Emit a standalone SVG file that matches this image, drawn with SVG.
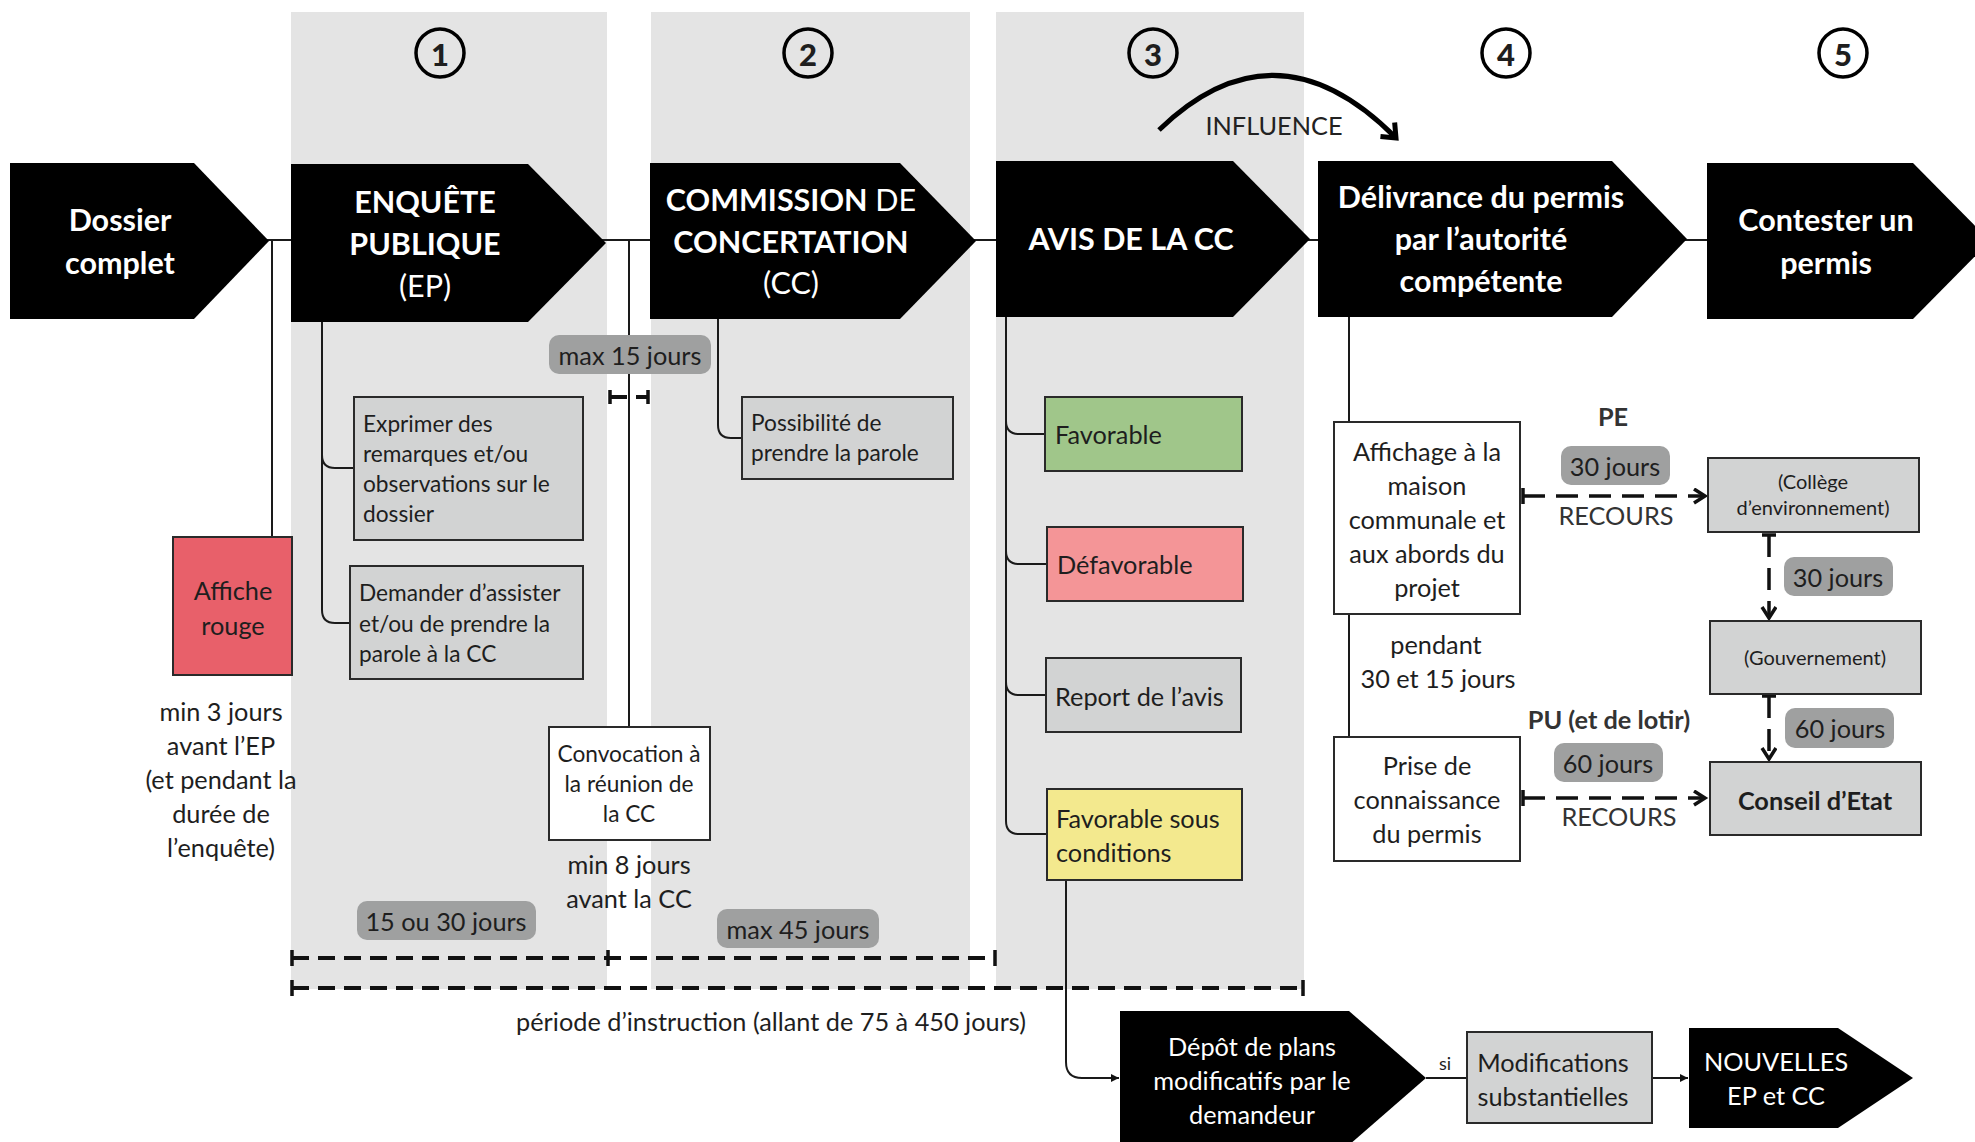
<svg xmlns="http://www.w3.org/2000/svg" width="1975" height="1142" viewBox="0 0 1975 1142">
<style>
text{font-family:Lato,"Liberation Sans",sans-serif;fill:#1e1e1e;dominant-baseline:central}
.hd{fill:#fff;font-size:30.5px;font-weight:bold;text-anchor:middle}
.hdr{font-weight:normal}
.col{fill:#e4e4e4}
.arrowshape{fill:#000}
.box{stroke:#2a2a2a;stroke-width:2}
.gray{fill:#d2d3d3}
.wht{fill:#fff}
.pill{fill:#9fa0a0}
.t24{font-size:25.3px}
.t22{font-size:22.7px}
.t20{font-size:20px}
.c{text-anchor:middle}
.ln{fill:none;stroke:#1a1a1a;stroke-width:2}
.dash{fill:none;stroke:#111;stroke-width:4;stroke-dasharray:17 9}
.dash2{fill:none;stroke:#111;stroke-width:3.5;stroke-dasharray:22 11}
.tick{stroke:#111;stroke-width:3.5}
.num{font-size:31px;font-weight:900;text-anchor:middle}
.circ{fill:none;stroke:#000;stroke-width:3.5}
.lt{fill:#333}
</style>
<defs>
<marker id="chev" markerUnits="userSpaceOnUse" markerWidth="20" markerHeight="20" refX="14" refY="8" orient="auto">
<path d="M3,1 L14,8 L3,15" fill="none" stroke="#111" stroke-width="3.5"/>
</marker>
<marker id="bigchev" markerUnits="userSpaceOnUse" markerWidth="30" markerHeight="30" refX="14" refY="12" orient="auto">
<path d="M2,2 L14,12 L2,22" fill="none" stroke="#000" stroke-width="5"/>
</marker>
<marker id="tri" markerUnits="userSpaceOnUse" markerWidth="10" markerHeight="10" refX="8" refY="4" orient="auto">
<path d="M0,0 L8,4 L0,8 Z" fill="#111"/>
</marker>
</defs>

<g id="columns">
<rect class="col" x="291" y="12" width="316" height="977"/>
<rect class="col" x="651" y="12" width="319" height="977"/>
<rect class="col" x="996" y="12" width="308" height="977"/>
</g>

<g id="connectors">
<path class="ln" d="M260,240 H1712"/>
<path class="ln" d="M272,240 V537"/>
<path class="ln" d="M629,240 V727"/>
<path class="ln" d="M322,322 V610 Q322,623 335,623 H350"/>
<path class="ln" d="M322,455 Q322,468 335,468 H354"/>
<path class="ln" d="M718,319 V425 Q718,438 731,438 H742"/>
<path class="ln" d="M1006,317 V821 Q1006,834 1019,834 H1047"/>
<path class="ln" d="M1006,421 Q1006,434 1019,434 H1045"/>
<path class="ln" d="M1006,551 Q1006,564 1019,564 H1047"/>
<path class="ln" d="M1006,682 Q1006,695 1019,695 H1046"/>
<path class="ln" d="M1349,317 V422"/>
<path class="ln" d="M1349,614 V737"/>
<path class="ln" d="M1066,880 V1062 Q1066,1078 1082,1078 H1119" marker-end="url(#tri)"/>
<path class="ln" d="M1426,1078 H1467"/>
<path class="ln" d="M1652,1078 H1688" marker-end="url(#tri)"/>
<path d="M1159,130 Q1276,17 1396,138" fill="none" stroke="#000" stroke-width="5" marker-end="url(#bigchev)"/>
<path class="dash" d="M610,397 H648" stroke-dasharray="8 6"/>
<path class="tick" d="M610,390 V404 M648,390 V404"/>
<path class="dash" d="M292,958 H995"/>
<path class="tick" d="M292,950 V966 M608,950 V966 M995,950 V966" stroke-width="4"/>
<path class="dash" d="M292,988 H1303"/>
<path class="tick" d="M292,980 V996 M1303,980 V996" stroke-width="4"/>
<path class="dash2" d="M1523,496 H1705" marker-end="url(#chev)"/>
<path class="tick" d="M1523,488 V504"/>
<path class="dash2" d="M1523,798 H1705" marker-end="url(#chev)"/>
<path class="tick" d="M1523,790 V806"/>
<path class="dash2" d="M1769,535 V618" stroke-dasharray="16 9" marker-end="url(#chev)"/>
<path class="tick" d="M1762,535 H1776"/>
<path class="dash2" d="M1769,696 V759" stroke-dasharray="14 8" marker-end="url(#chev)"/>
<path class="tick" d="M1762,696 H1776"/>
</g>

<g id="steps">
<g id="n1"><circle class="circ" cx="440" cy="53" r="24"/><text class="num" x="440" y="54">1</text></g>
<g id="n2"><circle class="circ" cx="808" cy="53" r="24"/><text class="num" x="808" y="54">2</text></g>
<g id="n3"><circle class="circ" cx="1153" cy="53" r="24"/><text class="num" x="1153" y="54">3</text></g>
<g id="n4"><circle class="circ" cx="1506" cy="53" r="24"/><text class="num" x="1506" y="54">4</text></g>
<g id="n5"><circle class="circ" cx="1843" cy="53" r="24"/><text class="num" x="1843" y="54">5</text></g>
</g>

<g id="dossier">
<path class="arrowshape" d="M10,163 H194 L269,241 L194,319 H10 Z"/>
<text class="hd" x="120" y="219">Dossier</text>
<text class="hd" x="120" y="262">complet</text>
</g>
<g id="ep">
<path class="arrowshape" d="M291,164 H528 L606,243 L528,322 H291 Z"/>
<text class="hd" x="425" y="201">ENQUÊTE</text>
<text class="hd" x="425" y="243">PUBLIQUE</text>
<text class="hd hdr" x="425" y="285">(EP)</text>
</g>
<g id="cc">
<path class="arrowshape" d="M650,163 H900 L976,241 L900,319 H650 Z"/>
<text class="hd" x="791" y="199">COMMISSION<tspan class="hdr"> DE</tspan></text>
<text class="hd" x="791" y="241">CONCERTATION</text>
<text class="hd hdr" x="791" y="282">(CC)</text>
</g>
<g id="avis">
<path class="arrowshape" d="M996,161 H1233 L1310,239 L1233,317 H996 Z"/>
<text class="hd" x="1131" y="238">AVIS DE LA CC</text>
</g>
<g id="delivrance">
<path class="arrowshape" d="M1318,161 H1612 L1687,239 L1612,317 H1318 Z"/>
<text class="hd" x="1481" y="196">Délivrance du permis</text>
<text class="hd" x="1481" y="238">par l’autorité</text>
<text class="hd" x="1481" y="280">compétente</text>
</g>
<g id="contester">
<path class="arrowshape" d="M1707,163 H1913 L1990,241 L1913,319 H1707 Z"/>
<text class="hd" x="1826" y="219">Contester un</text>
<text class="hd" x="1826" y="262">permis</text>
</g>

<g id="influence"><text class="t24 c" x="1274" y="125" style="fill:#222">INFLUENCE</text></g>

<g id="affiche">
<rect class="box" x="173" y="537" width="119" height="138" fill="#e8606a"/>
<text class="t24 c" x="233" y="590">Affiche</text>
<text class="t24 c" x="233" y="625">rouge</text>
</g>
<g id="affiche-note">
<text class="t24 c" x="221" y="711">min 3 jours</text>
<text class="t24 c" x="221" y="745">avant l’EP</text>
<text class="t24 c" x="221" y="779">(et pendant la</text>
<text class="t24 c" x="221" y="813">durée de</text>
<text class="t24 c" x="221" y="847">l’enquête)</text>
</g>

<g id="exprimer">
<rect class="box gray" x="354" y="397" width="229" height="143"/>
<text class="t22" x="363" y="423">Exprimer des</text>
<text class="t22" x="363" y="453">remarques et/ou</text>
<text class="t22" x="363" y="483">observations sur le</text>
<text class="t22" x="363" y="513">dossier</text>
</g>
<g id="demander">
<rect class="box gray" x="350" y="566" width="233" height="113"/>
<text class="t22" x="359" y="592">Demander d’assister</text>
<text class="t22" x="359" y="623">et/ou de prendre la</text>
<text class="t22" x="359" y="653">parole à la CC</text>
</g>

<g id="pill-max15">
<rect class="pill" x="549" y="335" width="162" height="39" rx="10"/>
<text class="t24 c" x="630" y="355">max 15 jours</text>
</g>

<g id="convocation">
<rect class="box wht" x="549" y="727" width="161" height="113"/>
<text class="t22 c" x="629" y="753">Convocation à</text>
<text class="t22 c" x="629" y="783">la réunion de</text>
<text class="t22 c" x="629" y="813">la CC</text>
</g>
<g id="convocation-note">
<text class="t24 c" x="629" y="864">min 8 jours</text>
<text class="t24 c" x="629" y="898">avant la CC</text>
</g>

<g id="possibilite">
<rect class="box gray" x="742" y="397" width="211" height="82"/>
<text class="t22" x="751" y="422">Possibilité de</text>
<text class="t22" x="751" y="452">prendre la parole</text>
</g>

<g id="favorable">
<rect class="box" x="1045" y="397" width="197" height="74" fill="#a0c68a"/>
<text class="t24" x="1055" y="434">Favorable</text>
</g>
<g id="defavorable">
<rect class="box" x="1047" y="527" width="196" height="74" fill="#f49597"/>
<text class="t24" x="1057" y="564">Défavorable</text>
</g>
<g id="report">
<rect class="box gray" x="1046" y="658" width="195" height="74"/>
<text class="t24" x="1055" y="696">Report de l’avis</text>
</g>
<g id="favcond">
<rect class="box" x="1047" y="789" width="195" height="91" fill="#f3e98e"/>
<text class="t24" x="1056" y="818">Favorable sous</text>
<text class="t24" x="1056" y="852">conditions</text>
</g>

<g id="pill-1530">
<rect class="pill" x="357" y="901" width="179" height="39" rx="10"/>
<text class="t24 c" x="446" y="921">15 ou 30 jours</text>
</g>
<g id="pill-max45">
<rect class="pill" x="717" y="909" width="162" height="39" rx="10"/>
<text class="t24 c" x="798" y="929">max 45 jours</text>
</g>
<g id="periode"><text class="t24 c" x="771" y="1021">période d’instruction (allant de 75 à 450 jours)</text></g>

<g id="affichage">
<rect class="box wht" x="1334" y="422" width="186" height="192"/>
<text class="t24 c" x="1427" y="451">Affichage à la</text>
<text class="t24 c" x="1427" y="485">maison</text>
<text class="t24 c" x="1427" y="519">communale et</text>
<text class="t24 c" x="1427" y="553">aux abords du</text>
<text class="t24 c" x="1427" y="587">projet</text>
</g>
<g id="pendant">
<text class="t24 c" x="1436" y="644">pendant</text>
<text class="t24 c" x="1438" y="678">30 et 15 jours</text>
</g>
<g id="prise">
<rect class="box wht" x="1334" y="737" width="186" height="124"/>
<text class="t24 c" x="1427" y="765">Prise de</text>
<text class="t24 c" x="1427" y="799">connaissance</text>
<text class="t24 c" x="1427" y="833">du permis</text>
</g>

<g id="pe-labels">
<text class="t24 c" x="1613" y="416" style="font-weight:bold;fill:#333">PE</text>
<rect class="pill" x="1561" y="446" width="109" height="39" rx="10"/>
<text class="t24 c" x="1615" y="466">30 jours</text>
<text class="t24 c lt" x="1616" y="515">RECOURS</text>
</g>
<g id="pu-labels">
<text class="t24 c" x="1609" y="719" style="font-weight:bold;fill:#333">PU (et de lotir)</text>
<rect class="pill" x="1554" y="743" width="109" height="39" rx="10"/>
<text class="t24 c" x="1608" y="763">60 jours</text>
<text class="t24 c lt" x="1619" y="816">RECOURS</text>
</g>

<g id="college">
<rect class="box gray" x="1708" y="458" width="211" height="74"/>
<text class="t20 c" x="1813" y="481">(Collège</text>
<text class="t20 c" x="1813" y="507">d’environnement)</text>
</g>
<g id="pill-30b">
<rect class="pill" x="1784" y="557" width="109" height="39" rx="10"/>
<text class="t24 c" x="1838" y="577">30 jours</text>
</g>
<g id="gouvernement">
<rect class="box gray" x="1710" y="621" width="211" height="73"/>
<text class="t20 c" x="1815" y="657">(Gouvernement)</text>
</g>
<g id="pill-60b">
<rect class="pill" x="1785" y="708" width="109" height="40" rx="10"/>
<text class="t24 c" x="1840" y="728">60 jours</text>
</g>
<g id="conseil">
<rect class="box gray" x="1710" y="762" width="211" height="73"/>
<text class="t24 c" x="1815" y="800" style="font-weight:bold">Conseil d’Etat</text>
</g>

<g id="depot">
<path class="arrowshape" d="M1120,1011 H1349 L1426,1078 L1349,1145 H1120 Z"/>
<text class="t24 c" x="1252" y="1046" style="fill:#fff">Dépôt de plans</text>
<text class="t24 c" x="1252" y="1080" style="fill:#fff">modificatifs par le</text>
<text class="t24 c" x="1252" y="1114" style="fill:#fff">demandeur</text>
</g>
<g id="si"><text class="c" x="1445" y="1063" style="font-size:18px">si</text></g>
<g id="modifs">
<rect class="box gray" x="1467" y="1032" width="185" height="91"/>
<text class="t24 c" x="1553" y="1062">Modifications</text>
<text class="t24 c" x="1553" y="1096">substantielles</text>
</g>
<g id="nouvelles">
<path class="arrowshape" d="M1689,1028 H1838 L1913,1078 L1838,1128 H1689 Z"/>
<text class="t24 c" x="1776" y="1061" style="fill:#fff">NOUVELLES</text>
<text class="t24 c" x="1776" y="1095" style="fill:#fff">EP et CC</text>
</g>
</svg>
